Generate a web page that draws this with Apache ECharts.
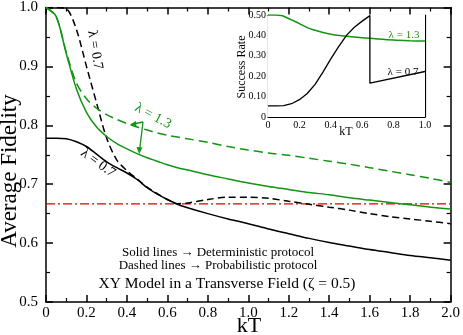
<!DOCTYPE html>
<html>
<head>
<meta charset="utf-8">
<script src="https://cdn.jsdelivr.net/npm/echarts@6/dist/echarts.min.js"></script>
<style>
  html, body { margin: 0; padding: 0; background: #fff; }
  #chart { width: 463px; height: 335px; }
</style>
</head>
<body>
<div id="chart"></div>
<script>
// main panel: average fidelity vs kT
const kT = [0, 0.05, 0.1, 0.15, 0.2, 0.25, 0.3, 0.35, 0.4, 0.45, 0.5, 0.55, 0.6, 0.65, 0.7,
            0.8, 0.9, 1.0, 1.1, 1.2, 1.3, 1.4, 1.5, 1.6, 1.7, 1.8, 1.9, 2.0];
const detL07 = [0.778, 0.778, 0.777, 0.772, 0.764, 0.751, 0.738, 0.728, 0.719, 0.708, 0.694, 0.683, 0.674, 0.666, 0.660,
                0.650, 0.641, 0.633, 0.624, 0.616, 0.608, 0.601, 0.595, 0.589, 0.584, 0.579, 0.575, 0.571];
const probL07 = [1.0, 1.0, 0.998, 0.963, 0.900, 0.838, 0.778, 0.741, 0.723, 0.709, 0.695, 0.684, 0.674, 0.667, 0.668,
                 0.674, 0.678, 0.678, 0.676, 0.671, 0.666, 0.661, 0.656, 0.650, 0.645, 0.641, 0.637, 0.633];
const detL13 = [1.0, 0.985, 0.922, 0.862, 0.822, 0.797, 0.781, 0.769, 0.760, 0.752, 0.745, 0.739, 0.733, 0.728, 0.724,
                0.716, 0.709, 0.702, 0.696, 0.691, 0.686, 0.682, 0.677, 0.673, 0.669, 0.665, 0.661, 0.658];
const probL13 = [1.0, 0.985, 0.924, 0.872, 0.845, 0.829, 0.818, 0.810, 0.803, 0.797, 0.792, 0.787, 0.783, 0.780, 0.777,
                 0.771, 0.764, 0.758, 0.753, 0.749, 0.744, 0.739, 0.734, 0.728, 0.722, 0.716, 0.710, 0.703];
const classicalLimit = 2 / 3;
const xTicks = [0, 0.2, 0.4, 0.6, 0.8, 1.0, 1.2, 1.4, 1.6, 1.8, 2.0];
const yTicks = [0.5, 0.6, 0.7, 0.8, 0.9, 1.0];

// inset: success rate vs kT
const inKT07 = [0, 0.05, 0.1, 0.15, 0.2, 0.25, 0.3, 0.35, 0.4, 0.45, 0.5, 0.55, 0.6, 0.649, 0.649, 1.0];
const succL07 = [0.055, 0.055, 0.056, 0.065, 0.085, 0.115, 0.16, 0.22, 0.285, 0.345, 0.4, 0.44, 0.47, 0.497, 0.166, 0.223];
const inKT13 = [0, 0.05, 0.085, 0.1, 0.15, 0.2, 0.25, 0.3, 0.35, 0.4, 0.5, 0.6, 0.7, 0.8, 0.9, 1.0];
const succL13 = [0.5, 0.5, 0.497, 0.494, 0.476, 0.458, 0.438, 0.425, 0.414, 0.406, 0.396, 0.388, 0.382, 0.377, 0.374, 0.372];
const inXTicks = [0, 0.2, 0.4, 0.6, 0.8, 1.0];
const inYTicks = [0, 0.1, 0.2, 0.3, 0.4, 0.5];

const serif = 'Liberation Serif';
const green = '#139413';
const red = '#e00000';

function pairs(xs, ys) {
    return xs.map((x, i) => [x, ys[i]]);
}

const chart = echarts.init(document.getElementById('chart'));

function mainX(pos, show) {
    return {
        type: 'value', gridIndex: 0, position: pos, min: xTicks[0], max: xTicks[xTicks.length - 1],
        interval: 0.2,
        axisLine: { show: true, onZero: false, lineStyle: { color: '#000', width: 1.5 } },
        axisTick: { show: true, inside: true, length: 7, lineStyle: { color: '#000', width: 1.5 } },
        minorTick: { show: true, splitNumber: 2, length: 4, lineStyle: { color: '#000', width: 1.2 } },
        axisLabel: {
            show: show, margin: 4, fontFamily: serif, fontSize: 15, color: '#000',
            formatter: v => v === 0 ? '0' : v.toFixed(1)
        },
        splitLine: { show: false }
    };
}
function mainY(pos, show) {
    return {
        type: 'value', gridIndex: 0, position: pos, min: yTicks[0], max: yTicks[yTicks.length - 1],
        interval: 0.1,
        axisLine: { show: true, onZero: false, lineStyle: { color: '#000', width: 1.5 } },
        axisTick: { show: true, inside: true, length: 7, lineStyle: { color: '#000', width: 1.5 } },
        minorTick: { show: true, splitNumber: 2, length: 4, lineStyle: { color: '#000', width: 1.2 } },
        axisLabel: {
            show: show, margin: 8, fontFamily: serif, fontSize: 15, color: '#000',
            formatter: v => v.toFixed(1)
        },
        splitLine: { show: false }
    };
}
function inX(pos, show) {
    return {
        type: 'value', gridIndex: 1, position: pos, min: inXTicks[0], max: inXTicks[inXTicks.length - 1],
        interval: 0.2,
        axisLine: { show: true, onZero: false, lineStyle: { color: '#000', width: 1.2 } },
        axisTick: { show: true, inside: true, length: 4, lineStyle: { color: '#000', width: 1 } },
        minorTick: { show: false },
        axisLabel: {
            show: show, margin: 3, fontFamily: serif, fontSize: 10, color: '#000',
            formatter: v => v === 0 ? '0' : v.toFixed(1)
        },
        splitLine: { show: false }
    };
}
function inY(pos, show) {
    return {
        type: 'value', gridIndex: 1, position: pos, min: inYTicks[0], max: inYTicks[inYTicks.length - 1],
        interval: 0.1,
        axisLine: { show: true, onZero: false, lineStyle: { color: '#000', width: 1.2 } },
        axisTick: { show: true, inside: true, length: 4, lineStyle: { color: '#000', width: 1 } },
        minorTick: { show: false },
        axisLabel: {
            show: show, margin: 2, fontFamily: serif, fontSize: 10, color: '#000',
            formatter: v => v === 0 ? '0' : v.toFixed(2)
        },
        splitLine: { show: false }
    };
}

const option = {
    backgroundColor: '#fff',
    animation: false,
    grid: [
        { left: 46, right: 11, top: 6, bottom: 33 },
        { left: 268, right: 38, top: 15, bottom: 218, show: true, backgroundColor: '#fff', borderWidth: 0, z: 5 }
    ],
    xAxis: [mainX('bottom', true), mainX('top', false), inX('bottom', true), inX('top', false)],
    yAxis: [mainY('left', true), mainY('right', false), inY('left', true), inY('right', false)],
    series: [
        {
            type: 'line', xAxisIndex: 0, yAxisIndex: 0, data: kT.map(x => [x, classicalLimit]),
            symbol: 'none', lineStyle: { color: red, width: 1.3, type: [9, 3, 2, 3] }, z: 2
        },
        {
            type: 'line', xAxisIndex: 0, yAxisIndex: 0, data: pairs(kT, detL07),
            symbol: 'none', smooth: 0.3, lineStyle: { color: '#000', width: 1.5 }
        },
        {
            type: 'line', xAxisIndex: 0, yAxisIndex: 0, data: pairs(kT, probL07),
            symbol: 'none', smooth: 0.3, lineStyle: { color: '#000', width: 1.5, type: [7, 4] }
        },
        {
            type: 'line', xAxisIndex: 0, yAxisIndex: 0, data: pairs(kT, detL13),
            symbol: 'none', smooth: 0.3, lineStyle: { color: green, width: 1.5 }
        },
        {
            type: 'line', xAxisIndex: 0, yAxisIndex: 0, data: pairs(kT, probL13),
            symbol: 'none', smooth: 0.3, lineStyle: { color: green, width: 1.5, type: [9, 5] }
        },
        {
            type: 'line', xAxisIndex: 2, yAxisIndex: 2, data: pairs(inKT13, succL13),
            symbol: 'none', smooth: 0.3, lineStyle: { color: green, width: 1.5 }, z: 6
        },
        {
            type: 'line', xAxisIndex: 2, yAxisIndex: 2, data: pairs(inKT07, succL07),
            symbol: 'none', lineStyle: { color: '#000', width: 1.3 }, z: 6
        }
    ],
    graphic: [
        // axis titles
        { type: 'text', x: 10, y: 171, rotation: Math.PI / 2,
          style: { text: 'Average Fidelity', font: '23px "Liberation Serif"', fill: '#000', align: 'center', verticalAlign: 'middle' } },
        { type: 'text', x: 249, y: 326,
          style: { text: 'kT', font: '22px "Liberation Serif"', fill: '#000', align: 'center', verticalAlign: 'middle' } },
        // curve labels
        { type: 'text', x: 95, y: 50, rotation: -80 * Math.PI / 180,
          style: { text: 'λ = 0.7', font: '14px "Liberation Serif"', fill: '#000', align: 'center', verticalAlign: 'middle' } },
        { type: 'text', x: 98, y: 163, rotation: -36 * Math.PI / 180,
          style: { text: 'λ = 0.7', font: '14px "Liberation Serif"', fill: '#000', align: 'center', verticalAlign: 'middle' } },
        { type: 'text', x: 153, y: 116, rotation: -28 * Math.PI / 180,
          style: { text: 'λ = 1.3', font: '14px "Liberation Serif"', fill: green, align: 'center', verticalAlign: 'middle' } },
        // arrows from the λ = 1.3 label
        { type: 'polyline', shape: { points: [[143, 122], [133, 124]] }, style: { stroke: green, lineWidth: 1.3 } },
        { type: 'polygon', shape: { points: [[130, 124.5], [136, 121], [136.5, 126.5]] }, style: { fill: green } },
        { type: 'polyline', shape: { points: [[143, 122], [139.6, 150]] }, style: { stroke: green, lineWidth: 1.3 } },
        { type: 'polygon', shape: { points: [[139.2, 154], [136.5, 147], [142.5, 147.6]] }, style: { fill: green } },
        // notes
        { type: 'text', x: 218, y: 253,
          style: { text: 'Solid lines → Deterministic protocol', font: '13px "Liberation Serif"', fill: '#000', align: 'center', verticalAlign: 'middle' } },
        { type: 'text', x: 218, y: 266,
          style: { text: 'Dashed lines → Probabilistic protocol', font: '13px "Liberation Serif"', fill: '#000', align: 'center', verticalAlign: 'middle' } },
        { type: 'text', x: 227, y: 284,
          style: { text: 'XY Model in a Transverse Field (ζ = 0.5)', font: '15.5px "Liberation Serif"', fill: '#000', align: 'center', verticalAlign: 'middle' } },
        // inset titles and labels
        { type: 'text', x: 242, y: 67, rotation: Math.PI / 2, z: 10,
          style: { text: 'Success Rate', font: '12px "Liberation Serif"', fill: '#000', align: 'center', verticalAlign: 'middle' } },
        { type: 'text', x: 346, y: 132, z: 10,
          style: { text: 'kT', font: '12px "Liberation Serif"', fill: '#000', align: 'center', verticalAlign: 'middle' } },
        { type: 'text', x: 404, y: 35, z: 10,
          style: { text: 'λ = 1.3', font: '11px "Liberation Serif"', fill: green, align: 'center', verticalAlign: 'middle' } },
        { type: 'text', x: 403, y: 72, z: 10,
          style: { text: 'λ = 0.7', font: '11px "Liberation Serif"', fill: '#000', align: 'center', verticalAlign: 'middle' } }
    ]
};

chart.setOption(option);
</script>
</body>
</html>
